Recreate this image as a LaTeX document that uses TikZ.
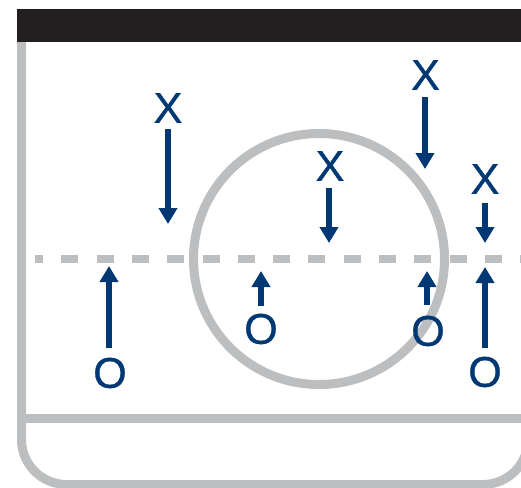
\documentclass[tikz,border=0pt]{standalone}
\usepackage{fontspec}
\setmainfont{Liberation Sans}[FakeBold=0.8]
\usetikzlibrary{arrows.meta}
\definecolor{rinkgray}{HTML}{BCBEC0}
\definecolor{barblack}{HTML}{231F20}
\definecolor{playblue}{HTML}{003873}
\begin{document}
\begin{tikzpicture}[x=1pt,y=-1pt,
  rink/.style={draw=rinkgray,line width=9pt},
  player/.style={text=playblue,inner sep=0pt,font=\fontsize{43}{43}\selectfont},
  move/.style={draw=playblue,line width=6pt,-{Triangle[width=18pt,length=16pt]}}]
\useasboundingbox (0,0) rectangle (521,487);
\clip (0,0) rectangle (521,487);
% rink outline
\draw[rink,rounded corners=45pt] (21.5,40) -- (21.5,484.5) -- (528,484.5) -- (528,40);
\draw[rink] (17,418) -- (521,418);
\fill[barblack] (17,9) rectangle (521,42);
% blue line (dashed) and circle
\draw[rink,line width=8pt,dash pattern=on 17pt off 18.3pt,dash phase=9pt] (35,259) -- (521,259);
\draw[rink] (319,259) circle[radius=125.5];
% players
\node[player] (x1) at (168,108) {X};
\node[player] (x2) at (330,166) {X};
\node[player] (x3) at (425.5,75) {X};
\node[player] (x4) at (485,179) {X};
\node[player] (o1) at (110,373) {O};
\node[player] (o2) at (261,329) {O};
\node[player] (o3) at (428,331) {O};
\node[player] (o4) at (485,372) {O};
% arrow endpoints
\coordinate (a1s) at (168,129); \coordinate (a1e) at (168,224);
\coordinate (a2s) at (329,188); \coordinate (a2e) at (329,243);
\coordinate (a3s) at (425,97);  \coordinate (a3e) at (425,169);
\coordinate (a4s) at (485,203); \coordinate (a4e) at (485,243);
\coordinate (b1s) at (109,348); \coordinate (b1e) at (109,266);
\coordinate (b2s) at (261,306); \coordinate (b2e) at (261,271);
\coordinate (b3s) at (427,305); \coordinate (b3e) at (427,271);
\coordinate (b4s) at (485,348); \coordinate (b4e) at (485,267);
\foreach \p in {a1,a2,a3,a4,b1,b2,b3,b4}{
  \draw[move] (\p s) -- (\p e);
}
\end{tikzpicture}
\end{document}
